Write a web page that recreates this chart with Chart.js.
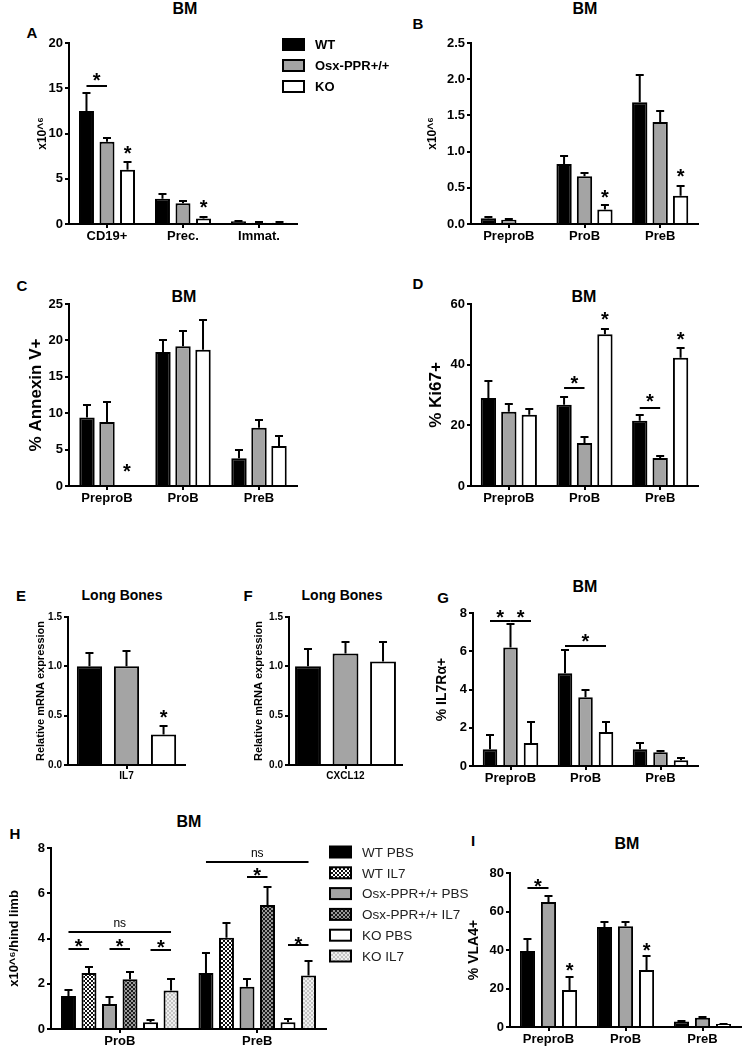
<!DOCTYPE html>
<html>
<head>
<meta charset="utf-8">
<title>BM bar charts</title>
<script src="https://cdn.jsdelivr.net/npm/chart.js@4.4.1/dist/chart.umd.min.js"></script>
<style>
	body { margin: 0; width: 743px; height: 1050px; position: relative; overflow: hidden; background: #fff;
		font-family: "Liberation Sans", Arial, sans-serif; }
	canvas { position: absolute; }
	.t { position: absolute; transform: translate(-50%, -50%); font-weight: bold; line-height: 1; white-space: nowrap; color: #000; }
	.ttl { font-size: 16px; }
	.let { font-size: 15px; }
</style>
</head>
<body>
<div class="t let" style="left:32px;top:32px">A</div>
<div class="t ttl" style="left:185px;top:9px">BM</div>
<div class="t let" style="left:418px;top:23px">B</div>
<div class="t ttl" style="left:585px;top:9px">BM</div>
<div class="t let" style="left:22px;top:285px">C</div>
<div class="t ttl" style="left:184px;top:297px">BM</div>
<div class="t let" style="left:418px;top:283px">D</div>
<div class="t ttl" style="left:584px;top:297px">BM</div>
<div class="t let" style="left:21px;top:595px">E</div>
<div class="t" style="left:122px;top:595px;font-size:14px">Long Bones</div>
<div class="t let" style="left:248px;top:595px">F</div>
<div class="t" style="left:342px;top:595px;font-size:14px">Long Bones</div>
<div class="t let" style="left:443px;top:597px">G</div>
<div class="t ttl" style="left:585px;top:587px">BM</div>
<div class="t let" style="left:15px;top:833px">H</div>
<div class="t ttl" style="left:189px;top:822px">BM</div>
<div class="t let" style="left:473px;top:840px">I</div>
<div class="t ttl" style="left:627px;top:844px">BM</div>

<script>
const FONT = '"Liberation Sans", Arial, sans-serif';

// ---------- data ----------
const groups = ["WT", "Osx-PPR+/+", "KO"];
const stages = ["PreproB", "ProB", "PreB"];

// A: cell counts
const aLabels = ["CD19+", "Prec.", "Immat."];
const aWT = [12.5, 2.8, 0.3];
const aWTsem = [2.0, 0.5, 0.08];
const aOsx = [9.1, 2.3, 0.15];
const aOsxSem = [0.4, 0.2, 0.03];
const aKO = [6.0, 0.6, 0.15];
const aKOSem = [0.8, 0.15, 0.03];

// B
const bWT = [0.08, 0.83, 1.68];
const bWTsem = [0.02, 0.11, 0.38];
const bOsx = [0.06, 0.66, 1.41];
const bOsxSem = [0.01, 0.04, 0.15];
const bKO = [0, 0.2, 0.39];
const bKOSem = [0, 0.06, 0.13];

// C: Annexin V
const cWT = [9.4, 18.4, 3.8];
const cWTsem = [1.7, 1.7, 1.1];
const cOsx = [8.8, 19.2, 8.0];
const cOsxSem = [2.8, 2.1, 1.0];
const cKO = [0, 18.7, 5.5];
const cKOSem = [0, 4.1, 1.4];

// D: Ki67
const dWT = [29, 26.8, 21.5];
const dWTsem = [5.5, 2.5, 2.0];
const dOsx = [24.5, 14.2, 9.2];
const dOsxSem = [2.5, 1.8, 0.8];
const dKO = [23.5, 50, 42.3];
const dKOSem = [2.0, 1.8, 3.3];

// E / F: mRNA
const eLabels = ["IL7"];
const eValues = [1.0, 1.0, 0.31];
const eSem = [0.14, 0.16, 0.09];
const fLabels = ["CXCL12"];
const fValues = [1.0, 1.13, 1.05];
const fSem = [0.18, 0.12, 0.2];

// G: IL7Ra
const gWT = [0.87, 4.85, 0.88];
const gWTsem = [0.73, 1.2, 0.3];
const gOsx = [6.2, 3.6, 0.72];
const gOsxSem = [1.2, 0.4, 0.05];
const gKO = [1.2, 1.78, 0.3];
const gKOSem = [1.1, 0.5, 0.1];

// H: IL7 treatment
const hLabels = ["ProB", "PreB"];
const hGroups = ["WT PBS", "WT IL7", "Osx-PPR+/+ PBS", "Osx-PPR+/+ IL7", "KO PBS", "KO IL7"];
const hValues = [[1.46, 2.47], [2.48, 4.03], [1.1, 1.87], [2.2, 5.48], [0.3, 0.3], [1.7, 2.36]];
const hSem = [[0.26, 0.88], [0.26, 0.65], [0.3, 0.33], [0.3, 0.79], [0.1, 0.12], [0.5, 0.64]];

// I: VLA4
const iWT = [39.5, 52, 2.8];
const iWTsem = [6.2, 2.5, 0.4];
const iOsx = [65, 52.3, 4.8];
const iOsxSem = [3, 2.2, 0.4];
const iKO = [19.2, 29.6, 1.5];
const iKOSem = [6.8, 7.4, 0.3];

// significance marks (values in axis units)
const aSig = [{ cat: 0, a: 0, b: 1, y: 15.2, star: 16.3 }, { cat: 0, a: 2, star: 8.3 }, { cat: 1, a: 2, star: 2.3 }];
const bSig = [{ cat: 1, a: 2, star: 0.43 }, { cat: 2, a: 2, star: 0.72 }];
const cSig = [{ cat: 0, a: 2, star: 2.6 }];
const dSig = [{ cat: 1, a: 0, b: 1, y: 32.3, star: 35.3 }, { cat: 2, a: 0, b: 1, y: 25.7, star: 29.4 },
	{ cat: 1, a: 2, star: 56.4 }, { cat: 2, a: 2, star: 49.8 }];
const eSig = [{ cat: 0, a: 2, star: 0.53 }];
const gSig = [{ cat: 0, a: 0, b: 1, y: 7.6, star: 8.0 }, { cat: 0, a: 1, b: 2, y: 7.6, star: 8.0 },
	{ cat: 1, a: 0, b: 2, y: 6.3, star: 6.75 }];
const hSig = [{ cat: 0, a: 0, b: 5, y: 4.3, star: 4.65, text: "ns" },
	{ cat: 0, a: 0, b: 1, y: 3.55, star: 3.85 }, { cat: 0, a: 2, b: 3, y: 3.55, star: 3.85 },
	{ cat: 0, a: 4, b: 5, y: 3.5, star: 3.8 },
	{ cat: 1, a: 0, b: 5, y: 7.4, star: 7.75, text: "ns" },
	{ cat: 1, a: 2, b: 3, y: 6.7, star: 7.0 }, { cat: 1, a: 4, b: 5, y: 3.7, star: 3.95 }];
const iSig = [{ cat: 0, a: 0, b: 1, y: 72.2, star: 75.5 }, { cat: 0, a: 2, star: 31.5 }, { cat: 1, a: 2, star: 42 }];

// ---------- layout (page px) ----------
const layout = {
	A: { L: 69, T: 43, R: 297, B: 224, titleX: 42, top: 0, right: 400 },
	B: { L: 471, T: 43, R: 698, B: 224, titleX: 432, top: 0, right: 743 },
	C: { L: 69, T: 304, R: 297, B: 486, titleX: 36, top: 262, right: 330 },
	D: { L: 471, T: 304, R: 698, B: 486, titleX: 436, top: 262, right: 743 },
	E: { L: 68, T: 617, R: 185, B: 765, titleX: 41, top: 600, right: 210 },
	F: { L: 289, T: 617, R: 402, B: 765, titleX: 259, top: 600, right: 420 },
	G: { L: 473, T: 613, R: 698, B: 766, titleX: 442, top: 595, right: 743 },
	H: { L: 51, T: 848, R: 326, B: 1029, titleX: 15, top: 828, right: 495 },
	I: { L: 510, T: 873, R: 741, B: 1027, titleX: 474, top: 855, right: 743 },
};

const BLACK = "#000000";
const GRAY = "#a4a4a4";
const WHITE = "#ffffff";

function checker(bg, fg) {
	return (ctx) => {
		const tile = document.createElement("canvas");
		tile.width = 4;
		tile.height = 4;
		const t = tile.getContext("2d");
		t.fillStyle = bg;
		t.fillRect(0, 0, 4, 4);
		t.fillStyle = fg;
		t.fillRect(0, 0, 2, 2);
		t.fillRect(2, 2, 2, 2);
		return ctx.createPattern(tile, "repeat");
	};
}
const hColors = [BLACK, checker("#ffffff", "#111111"), GRAY, checker("#1a1a1a", "#9a9a9a"), WHITE, checker("#c4c4c4", "#f0f0f0")];

const three = (v1, e1, v2, e2, v3, e3) => [
	{ label: groups[0], data: v1, err: e1, color: BLACK },
	{ label: groups[1], data: v2, err: e2, color: GRAY },
	{ label: groups[2], data: v3, err: e3, color: WHITE },
];

function drawLegend(ctx, o) {
	const lg = o.legend;
	lg.items.forEach((it, i) => {
		const cy = lg.y0 + i * lg.dy - o.oy;
		const x = lg.x - o.ox;
		ctx.fillStyle = typeof it.color === "function" ? it.color(ctx) : it.color;
		ctx.fillRect(x, cy - lg.h / 2, lg.w, lg.h);
		ctx.strokeRect(x, cy - lg.h / 2, lg.w, lg.h);
		ctx.fillStyle = lg.textColor || BLACK;
		ctx.font = lg.font;
		ctx.textAlign = "left";
		ctx.textBaseline = "middle";
		ctx.fillText(it.label, lg.textX - o.ox, cy + 1);
	});
}

function extras(o) {
	return {
		id: "extras",
		afterDatasetsDraw(chart) {
			const ctx = chart.ctx;
			const ys = chart.scales.y;
			ctx.save();
			ctx.strokeStyle = BLACK;
			ctx.fillStyle = BLACK;
			ctx.lineWidth = 2;
			// error bars (upper only)
			chart.data.datasets.forEach((ds, i) => {
				chart.getDatasetMeta(i).data.forEach((bar, j) => {
					if (!ds.err[j]) return;
					const y0 = ys.getPixelForValue(ds.data[j]);
					const y1 = Math.round(ys.getPixelForValue(ds.data[j] + ds.err[j]));
					ctx.beginPath();
					ctx.moveTo(bar.x, y0);
					ctx.lineTo(bar.x, y1);
					ctx.moveTo(bar.x - 4, y1);
					ctx.lineTo(bar.x + 4, y1);
					ctx.stroke();
				});
			});
			// significance lines and stars
			const barX = (cat, k) => chart.getDatasetMeta(k).data[cat].x;
			(o.sig || []).forEach((s) => {
				let x = barX(s.cat, s.a);
				if (s.b !== undefined) {
					const x2 = barX(s.cat, s.b);
					const y = Math.round(ys.getPixelForValue(s.y));
					ctx.beginPath();
					ctx.moveTo(x, y);
					ctx.lineTo(x2, y);
					ctx.stroke();
					x = (x + x2) / 2;
				}
				const yc = ys.getPixelForValue(s.star);
				ctx.textAlign = "center";
				ctx.textBaseline = "alphabetic";
				if (s.text) {
					ctx.font = "12px " + FONT;
					ctx.fillText(s.text, x, yc + 3);
				} else {
					ctx.font = "bold 20px " + FONT;
					ctx.fillText("*", x, yc + 11);
				}
			});
			if (o.legend) drawLegend(ctx, o);
			ctx.restore();
		},
	};
}

function makePanel(box, cats, series, o) {
	const lh = o.yFont * 1.2;
	const left = Math.round(box.titleX - lh / 2);
	const yW = box.L - left;
	const xH = 24;
	o.ox = left;
	o.oy = box.top;
	const cv = document.createElement("canvas");
	cv.width = box.right - left;
	cv.height = box.B + xH - box.top;
	cv.style.left = left + "px";
	cv.style.top = box.top + "px";
	document.body.appendChild(cv);

	const tickFont = { family: FONT, size: o.tick || 13, weight: "bold" };
	const axisGrid = { drawOnChartArea: false, color: BLACK, tickColor: BLACK, lineWidth: 2, tickLength: 4 };

	return new Chart(cv, {
		type: "bar",
		data: {
			labels: cats,
			datasets: series.map((s) => ({
				label: s.label,
				data: s.data,
				err: s.err,
				backgroundColor: typeof s.color === "function" ? (c) => s.color(c.chart.ctx) : s.color,
				borderColor: BLACK,
				borderWidth: 2,
				categoryPercentage: o.cat,
				barPercentage: o.bar,
			})),
		},
		options: {
			responsive: false,
			animation: false,
			devicePixelRatio: 1,
			layout: { padding: { top: box.T - box.top, right: box.right - box.R, left: 0, bottom: 0 } },
			plugins: { legend: { display: false }, tooltip: { enabled: false } },
			scales: {
				x: {
					grid: Object.assign({ offset: false }, axisGrid),
					border: { color: BLACK, width: 2 },
					ticks: { color: BLACK, font: tickFont, padding: 1, autoSkip: false, maxRotation: 0 },
					afterFit: (s) => { s.height = xH; },
				},
				y: {
					min: 0,
					max: o.max,
					grid: axisGrid,
					border: { color: BLACK, width: 2 },
					ticks: {
						stepSize: o.step,
						color: BLACK,
						font: tickFont,
						padding: 2,
						callback: (v) => v.toFixed(o.dec || 0),
					},
					title: {
						display: true,
						text: o.yTitle,
						color: BLACK,
						font: { family: FONT, size: o.yFont, weight: "bold" },
						padding: 0,
					},
					afterFit: (s) => { s.width = yW; },
				},
			},
		},
		plugins: [extras(o)],
	});
}

makePanel(layout.A, aLabels, three(aWT, aWTsem, aOsx, aOsxSem, aKO, aKOSem), {
	max: 20, step: 5, yTitle: "x10^⁶", yFont: 12, cat: 0.81, bar: 0.73, sig: aSig,
	legend: {
		x: 283, y0: 44.5, dy: 21, w: 21, h: 11, textX: 315, font: "bold 13px " + FONT,
		items: groups.map((g, i) => ({ label: g, color: [BLACK, GRAY, WHITE][i] })),
	},
});

makePanel(layout.B, stages, three(bWT, bWTsem, bOsx, bOsxSem, bKO, bKOSem), {
	max: 2.5, step: 0.5, dec: 1, yTitle: "x10^⁶", yFont: 12, cat: 0.81, bar: 0.75, sig: bSig,
});

makePanel(layout.C, stages, three(cWT, cWTsem, cOsx, cOsxSem, cKO, cKOSem), {
	max: 25, step: 5, yTitle: "% Annexin V+", yFont: 17, cat: 0.79, bar: 0.77, sig: cSig,
});

makePanel(layout.D, stages, three(dWT, dWTsem, dOsx, dOsxSem, dKO, dKOSem), {
	max: 60, step: 20, yTitle: "% Ki67+", yFont: 17, cat: 0.81, bar: 0.75, sig: dSig,
});

makePanel(layout.E, eLabels, three([eValues[0]], [eSem[0]], [eValues[1]], [eSem[1]], [eValues[2]], [eSem[2]]), {
	max: 1.5, step: 0.5, dec: 1, tick: 10, yTitle: "Relative mRNA expression", yFont: 11, cat: 0.95, bar: 0.68, sig: eSig,
});

makePanel(layout.F, fLabels, three([fValues[0]], [fSem[0]], [fValues[1]], [fSem[1]], [fValues[2]], [fSem[2]]), {
	max: 1.5, step: 0.5, dec: 1, tick: 10, yTitle: "Relative mRNA expression", yFont: 11, cat: 0.996, bar: 0.69,
});

makePanel(layout.G, stages, three(gWT, gWTsem, gOsx, gOsxSem, gKO, gKOSem), {
	max: 8, step: 2, yTitle: "% IL7Rα+", yFont: 14, cat: 0.82, bar: 0.71, sig: gSig,
});

makePanel(layout.H, hLabels, hGroups.map((g, i) => ({ label: g, data: hValues[i], err: hSem[i], color: hColors[i] })), {
	max: 8, step: 2, yTitle: "x10^⁶/hind limb", yFont: 13, cat: 0.895, bar: 0.73, sig: hSig,
	legend: {
		x: 330, y0: 852, dy: 20.8, w: 21, h: 11, textX: 362, font: "13.5px " + FONT, textColor: "#222",
		items: hGroups.map((g, i) => ({ label: g, color: hColors[i] })),
	},
});

makePanel(layout.I, stages, three(iWT, iWTsem, iOsx, iOsxSem, iKO, iKOSem), {
	max: 80, step: 20, yTitle: "% VLA4+", yFont: 14, cat: 0.82, bar: 0.72, sig: iSig,
});
</script>
</body>
</html>
